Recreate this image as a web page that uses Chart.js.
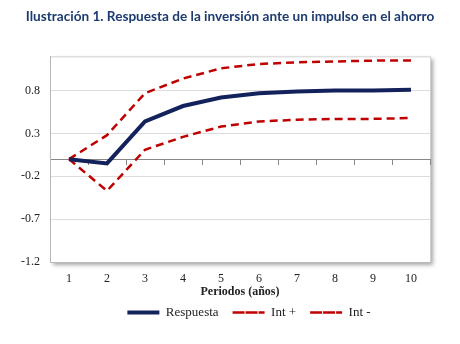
<!DOCTYPE html>
<html>
<head>
<meta charset="utf-8">
<script src="https://cdn.jsdelivr.net/npm/chart.js@4"></script>
<style>
  html, body { margin: 0; padding: 0; background: #fff; }
  #wrap { width: 460px; height: 344px; }
</style>
</head>
<body>
<div id="wrap"><canvas id="grafico" width="460" height="344"></canvas></div>
<script>
// Periodos (años)
const periodos = ['1', '2', '3', '4', '5', '6', '7', '8', '9', '10'];

// Series
const respuesta = [0, -0.05, 0.44, 0.62, 0.72, 0.77, 0.79, 0.80, 0.80, 0.81];
const intMas    = [0, 0.28, 0.77, 0.94, 1.06, 1.11, 1.13, 1.14, 1.15, 1.15];
const intMenos  = [0, -0.37, 0.11, 0.26, 0.38, 0.44, 0.46, 0.47, 0.47, 0.48];

// Ticks del eje Y
const ticksY = [-1.2, -0.7, -0.2, 0.3, 0.8];

const serif = 'Liberation Serif';

// Marco del area de graficos con sombra
const marco = {
  id: 'marco',
  afterLayout(chart) {
    // centrar titulo y leyenda como en el original
    const t = chart.titleBlock, l = chart.legend;
    if (t) { t.left += 15; t.right += 15; }
    if (l) { l.left += 34; l.right += 34; l.top -= 10; l.bottom -= 10; }
  },
  beforeDraw(chart) {
    const { ctx, chartArea: a } = chart;
    ctx.save();
    ctx.shadowColor = 'rgba(0,0,0,0.35)';
    ctx.shadowBlur = 4;
    ctx.shadowOffsetX = 3;
    ctx.shadowOffsetY = 3;
    ctx.fillStyle = '#fff';
    ctx.fillRect(a.left, a.top, a.right - a.left, a.bottom - a.top);
    ctx.restore();
    ctx.save();
    ctx.strokeStyle = '#d0d0d0';
    ctx.lineWidth = 1;
    ctx.strokeRect(a.left + 0.5, a.top + 0.5, a.right - a.left, a.bottom - a.top);
    ctx.restore();
  }
};

new Chart(document.getElementById('grafico'), {
  type: 'line',
  data: {
    labels: periodos,
    datasets: [
      { label: 'Respuesta', data: respuesta, borderColor: '#14225c', backgroundColor: 'transparent',
        borderWidth: 4, pointRadius: 0, tension: 0 },
      { label: 'Int +', data: intMas, borderColor: '#c00000', backgroundColor: 'transparent',
        borderWidth: 2.5, borderDash: [8, 5], pointRadius: 0, tension: 0 },
      { label: 'Int -', data: intMenos, borderColor: '#c00000', backgroundColor: 'transparent',
        borderWidth: 2.5, borderDash: [8, 5], pointRadius: 0, tension: 0 }
    ]
  },
  options: {
    responsive: false,
    animation: false,
    layout: { padding: { left: 0, right: 30, top: 0, bottom: 5 } },
    plugins: {
      title: {
        display: true,
        text: 'Ilustración 1. Respuesta de la inversión ante un impulso en el ahorro',
        color: '#1d3b70',
        font: { family: 'Lato', weight: 'bold', size: 13.6 },
        padding: { top: 8, bottom: 32 }
      },
      legend: {
        position: 'bottom',
        labels: {
          boxWidth: 32,
          boxHeight: 0,
          color: '#222',
          padding: 14,
          font: { family: serif, size: 13 }
        }
      },
      tooltip: { enabled: false }
    },
    scales: {
      x: {
        offset: true,
        afterFit(scale) { scale.height = 40; },
        grid: { display: false, offset: true, drawTicks: false },
        border: { color: '#b8b8b8' },
        ticks: { color: '#222', font: { family: serif, size: 12 }, padding: 10 },
        title: {
          display: true,
          text: 'Periodos (años)',
          color: '#222',
          font: { family: serif, size: 12, weight: 'bold' },
          padding: { top: 0, bottom: 3 }
        }
      },
      x0: {
        type: 'category',
        labels: periodos,
        position: { y: 0 },
        offset: true,
        grid: { offset: true, drawOnChartArea: false, tickLength: 5, color: '#888' },
        border: { color: '#888' },
        ticks: { display: false }
      },
      y: {
        min: -1.2,
        max: 1.2,
        afterBuildTicks(scale) { scale.ticks = ticksY.map(v => ({ value: v })); },
        afterFit(scale) { scale.width = 50; },
        grid: { color: '#dcdcdc', drawTicks: false },
        border: { color: '#b8b8b8' },
        ticks: {
          color: '#222',
          font: { family: serif, size: 12 },
          padding: 10,
          callback: v => v.toFixed(1)
        }
      }
    }
  },
  plugins: [marco]
});
</script>
</body>
</html>
